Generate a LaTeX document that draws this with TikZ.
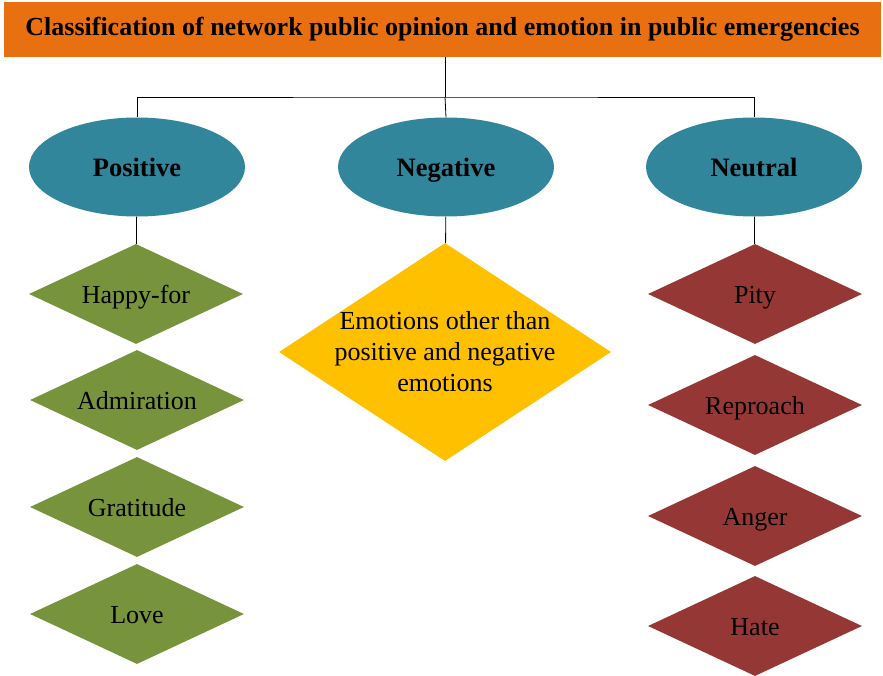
\documentclass[tikz,border=0pt]{standalone}
\usepackage{fontspec}
\setmainfont{Liberation Serif}
\usetikzlibrary{shapes.geometric}

\definecolor{bannerorange}{RGB}{232,112,16}
\definecolor{headteal}{RGB}{49,134,155}
\definecolor{posgreen}{RGB}{119,147,60}
\definecolor{neuyellow}{RGB}{255,192,0}
\definecolor{negred}{RGB}{149,55,53}

\begin{document}
\begin{tikzpicture}[x=1pt,y=-1pt]

\tikzstyle{banner}=[fill=bannerorange, minimum width=877pt, minimum height=55pt, inner sep=0pt, font=\fontsize{26}{30}\selectfont\bfseries]
\tikzstyle{head}=[ellipse, fill=headteal, minimum width=216pt, minimum height=99pt, inner sep=0pt, text height=22pt, text depth=2pt, font=\fontsize{26.5}{30}\selectfont\bfseries]
\tikzstyle{leaf}=[diamond, aspect=2.14, minimum width=214pt, minimum height=100pt, inner sep=0pt, text height=21pt, text depth=3pt, font=\fontsize{26}{30}\selectfont]
\tikzstyle{link}=[draw, black, line width=0.8pt]

\useasboundingbox (0,0) rectangle (883,676);

\node [banner] (title) at (442.5,29.5) {Classification of network public opinion and emotion in public emergencies};

\node [head] (positive) at (137,167) {Positive};
\node [head] (negative) at (446,167) {Negative};
\node [head] (neutral) at (754,167) {Neutral};

\node [leaf, fill=posgreen] (happy) at (136,294) {Happy-for};
\node [leaf, fill=posgreen] (admire) at (137,400) {Admiration};
\node [leaf, fill=posgreen] (grat) at (137,507) {Gratitude};
\node [leaf, fill=posgreen] (love) at (137,614) {Love};

\node [leaf, fill=neuyellow, aspect=1.52, minimum width=332pt, minimum height=218pt, inner sep=-9pt, text height=, text depth=, align=center, font=\fontsize{26}{31}\selectfont] (other) at (445,352) {Emotions other than\\positive and negative\\emotions};

\node [leaf, fill=negred] (pity) at (755,294) {Pity};
\node [leaf, fill=negred] (reproach) at (755,405) {Reproach};
\node [leaf, fill=negred] (anger) at (755,516) {Anger};
\node [leaf, fill=negred] (hate) at (755,626) {Hate};

\coordinate (bus) at (445,97);

\draw[link] (title.south -| bus) -- (bus);
\draw[link] (positive.north) |- (bus) -| (neutral.north);
\draw[link] (bus) -- (negative.north);
\draw[link] (positive) -- (happy);
\draw[link] (negative) -- (other);
\draw[link] (neutral) -- (pity);

\end{tikzpicture}
\end{document}
